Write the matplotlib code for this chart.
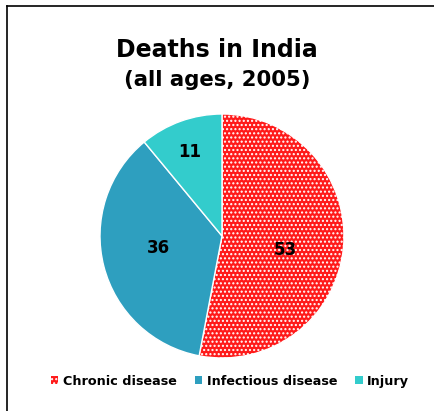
import matplotlib
matplotlib.use("Agg")
import matplotlib.pyplot as plt
import numpy as np
from matplotlib.lines import Line2D
from matplotlib.patches import Patch

categories = ["Chronic disease", "Infectious disease", "Injury"]
values = [53, 36, 11]
colors = ["#FF1A1A", "#2E9FBF", "#33CCCC"]
hatches = ["....", None, None]
label_dist = [0.53, 0.53, 0.74]
label_shift = [-7.0, -3.5, 1.0]

plt.rcParams["font.family"] = ["DejaVu Sans"]
plt.rcParams["hatch.color"] = "white"
plt.rcParams["hatch.linewidth"] = 1.0

fig = plt.figure(figsize=(4.35, 4.11), dpi=100)
fig.patch.set_facecolor("white")

W, H = 435, 411
cx, cy, r = 222, 236, 122
ax = fig.add_axes([(cx - r) / W, 1 - (cy + r) / H, 2 * r / W, 2 * r / H])
wedges, _ = ax.pie(values, colors=colors, startangle=90, counterclock=False,
                   wedgeprops=dict(edgecolor="white", linewidth=1.0), radius=1.0)
for w, h in zip(wedges, hatches):
    if h:
        w.set_hatch(h)
for w, v, d, s in zip(wedges, values, label_dist, label_shift):
    ang = np.deg2rad((w.theta1 + w.theta2) / 2 + s)
    ax.text(d * np.cos(ang), d * np.sin(ang), str(v), ha="center", va="center",
            fontsize=12, fontweight="bold", color="black")
ax.set_xlim(-1, 1)
ax.set_ylim(-1, 1)
ax.set_aspect("equal")
ax.axis("off")

fig.text(217 / W, 1 - 50 / H, "Deaths in India", ha="center", va="center",
         fontsize=17, fontweight="bold")
fig.text(217 / W, 1 - 80 / H, "(all ages, 2005)", ha="center", va="center",
         fontsize=15.3, fontweight="bold")

handles = []
for c, h in zip(colors, hatches):
    p = Patch(facecolor=c, edgecolor="white", hatch=h, linewidth=0)
    handles.append(p)
leg = fig.legend(handles, categories, loc="center", bbox_to_anchor=(230 / W, 1 - 381 / H),
                 ncol=3, frameon=False, prop=dict(weight="bold", size=9.2),
                 handlelength=0.6, handleheight=0.6, handletextpad=0.35, columnspacing=1.4)

fig.add_artist(Line2D([7 / W, 7 / W], [0, 1 - 6.5 / H], color="black", lw=1.2,
                      transform=fig.transFigure))
fig.add_artist(Line2D([7 / W, 1], [1 - 6.5 / H, 1 - 6.5 / H], color="black", lw=1.2,
                      transform=fig.transFigure))

fig.savefig("out.png", dpi=100, facecolor="white")
